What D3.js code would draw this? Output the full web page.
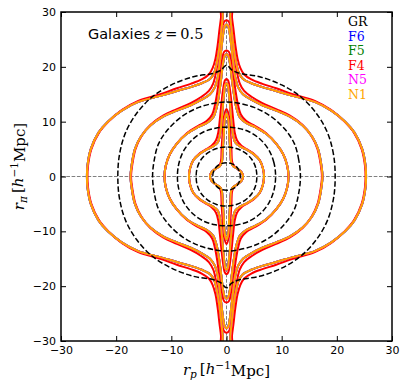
<!DOCTYPE html>
<html>
<head>
<meta charset="utf-8">
<script src="https://cdn.jsdelivr.net/npm/d3@7"></script>
<style>
  body { margin: 0; background: #fff; }
  svg { display: block; }
</style>
</head>
<body>
<svg id="chart" width="407" height="389"></svg>
<script>
// Contours are stored for one quadrant (rp >= 0, rpi >= 0), running from the
// rp axis up to the finger tip; the plot is symmetric, so they are mirrored.
const grContours = [
  [[19.7, 0], [19.4, 4], [18.3, 8], [16.3, 11.5], [13.5, 14.5], [10, 16.7], [6, 18.2], [2.5, 18.8], [1, 19.4], [0, 20.3]],
  [[13.4, 0], [13.1, 3], [12.3, 6], [10.6, 8.6], [8, 11], [5, 12.6], [2, 13.4], [0, 13.6]],
  [[8.9, 0], [8.6, 2.5], [7.7, 4.8], [6.1, 6.8], [4, 8.2], [2, 8.8], [0, 9.0]],
  [[5.5, 0], [5.3, 1.6], [4.6, 3.1], [3.4, 4.3], [1.8, 5.1], [0, 5.4]],
  [[2.5, 0], [2.3, 1], [1.7, 1.9], [0.8, 2.4], [0, 2.5]]
];

const mgContours = [
  [[25.3, 0], [25.2, 2], [24.6, 5], [23.2, 8], [21.5, 10], [19, 12], [16, 13.6], [12, 14.7], [9, 15.6], [6.5, 16.3], [4.5, 17], [3, 17.8], [2.2, 19], [1.7, 21], [1.3, 23.5], [0.95, 26.5], [0.7, 29], [0.55, 31]],
  [[17.4, 0], [17.2, 2], [16.6, 5], [15.5, 7.3], [13.8, 9.3], [11.5, 10.9], [9, 12], [6.5, 13], [4.5, 14], [3, 15], [2.1, 16.3], [1.6, 18], [1.2, 21], [0.85, 24], [0.55, 26.3], [0.3, 27.4], [0, 27.7]],
  [[11.25, 0], [11, 2], [10.3, 4], [9, 6], [7.2, 7.8], [5.2, 9], [3.5, 9.8], [2.4, 10.8], [1.8, 12.5], [1.35, 15], [0.95, 18], [0.65, 20.5], [0.3, 22], [0, 22.3]],
  [[6.8, 0], [6.6, 1.5], [6, 3], [5, 4], [3.8, 4.8], [2.6, 5.4], [1.6, 6.2], [1.2, 7.5], [0.9, 10], [0.65, 13], [0.4, 15.5], [0.2, 16.8], [0, 17]],
  [[3, 0], [2.7, 0.8], [2, 1.4], [1.2, 1.9], [0.85, 2.6], [0.7, 4.5], [0.5, 7.5], [0.3, 10.5], [0, 11.5]]
];

const f4Contours = [
  [[25.2, 0], [25.1, 2], [24.5, 5], [23.1, 8], [21.4, 10], [19, 12.1], [16, 13.8], [12, 15], [9, 16.1], [6.5, 16.9], [4.5, 17.7], [3.2, 18.6], [2.5, 19.8], [2.0, 21.5], [1.6, 24], [1.25, 27], [1.0, 29], [0.9, 31]],
  [[17.3, 0], [17.1, 2], [16.5, 5], [15.4, 7.4], [13.7, 9.5], [11.5, 11.1], [9, 12.3], [6.5, 13.4], [4.6, 14.5], [3.2, 15.6], [2.4, 17], [1.9, 19], [1.5, 21.5], [1.15, 24.5], [0.85, 26.8], [0.45, 28.2], [0, 28.5]],
  [[11.2, 0], [11, 2], [10.3, 4], [9, 6], [7.2, 7.9], [5.2, 9.2], [3.6, 10.1], [2.6, 11.3], [2.1, 13], [1.65, 15.5], [1.25, 18.5], [0.85, 21], [0.45, 22.7], [0, 23]],
  [[6.8, 0], [6.6, 1.5], [6, 3], [5, 4.1], [3.8, 4.9], [2.7, 5.6], [1.9, 6.6], [1.5, 8], [1.2, 10.5], [0.9, 13.5], [0.6, 16], [0.3, 17.5], [0, 17.8]],
  [[3, 0], [2.7, 0.8], [2, 1.4], [1.3, 2], [1.0, 2.8], [0.9, 4.8], [0.7, 8], [0.45, 11], [0, 12.3]]
];

const models = ["F6", "F5", "F4", "N5", "N1"];
const modelColors = ["#0000ff", "#008000", "#ff0000", "#ff00ff", "#ffa500"];
const modelContours = [mgContours, mgContours, f4Contours, mgContours, mgContours];
const legendNames = ["GR"].concat(models);
const legendColors = ["#000000"].concat(modelColors);
const ticks = [-30, -20, -10, 0, 10, 20, 30];

const margin = { left: 61, right: 15, top: 12, bottom: 48 };
const svg = d3.select("#chart");
const W = +svg.attr("width"), H = +svg.attr("height");
const x = d3.scaleLinear().domain([-30, 30]).range([margin.left, W - margin.right]);
const y = d3.scaleLinear().domain([-30, 30]).range([H - margin.bottom, margin.top]);

svg.append("clipPath").attr("id", "plot-clip")
  .append("rect")
  .attr("x", x(-30)).attr("y", y(30))
  .attr("width", x(30) - x(-30)).attr("height", y(-30) - y(30));

// mirror a quadrant polyline into a full closed loop
function fullLoop(q) {
  const onAxis = q[q.length - 1][0] === 0 ? 1 : 0;
  const q2 = q.slice().reverse().map(([a, b]) => [-a, b]);
  const q3 = q.map(([a, b]) => [-a, -b]);
  const q4 = q.slice().reverse().map(([a, b]) => [a, -b]);
  const pts = q.concat(q2.slice(onAxis), q3.slice(1), q4.slice(onAxis));
  return pts.slice(0, -1);
}

const line = d3.line()
  .x(d => x(d[0]))
  .y(d => y(d[1]))
  .curve(d3.curveCatmullRomClosed.alpha(0.5));

const plot = svg.append("g").attr("clip-path", "url(#plot-clip)");

// zero reference lines
plot.append("line")
  .attr("x1", x(-30)).attr("x2", x(30)).attr("y1", y(0)).attr("y2", y(0))
  .attr("stroke", "#808080").attr("stroke-width", 1).attr("stroke-dasharray", "3.7,1.6");
plot.append("line")
  .attr("x1", x(0)).attr("x2", x(0)).attr("y1", y(-30)).attr("y2", y(30))
  .attr("stroke", "#808080").attr("stroke-width", 1).attr("stroke-dasharray", "3.7,1.6");

models.forEach((m, i) => {
  plot.append("g")
    .selectAll("path")
    .data(modelContours[i])
    .join("path")
    .attr("d", q => line(fullLoop(q)))
    .attr("fill", "none")
    .attr("stroke", modelColors[i])
    .attr("stroke-width", 2)
    .attr("stroke-linejoin", "round");
});

plot.append("g")
  .selectAll("path")
  .data(grContours)
  .join("path")
  .attr("d", q => line(fullLoop(q)))
  .attr("fill", "none")
  .attr("stroke", "#000")
  .attr("stroke-width", 1.5)
  .attr("stroke-dasharray", "5.5,2.4");

// axes with inward ticks on all sides
const tickFont = "11px 'DejaVu Sans'";
function styleAxis(g) {
  g.select(".domain").remove();
  g.selectAll(".tick line").attr("stroke", "#000").attr("stroke-width", 1);
  g.selectAll(".tick text").style("font", tickFont).attr("fill", "#000");
}
svg.append("g").attr("transform", `translate(0,${y(-30)})`)
  .call(d3.axisBottom(x).tickValues(ticks).tickSize(-5).tickPadding(5)).call(styleAxis);
svg.append("g").attr("transform", `translate(${x(-30)},0)`)
  .call(d3.axisLeft(y).tickValues(ticks).tickSize(-5).tickPadding(5)).call(styleAxis);
svg.append("g").attr("transform", `translate(0,${y(30)})`)
  .call(d3.axisTop(x).tickValues(ticks).tickSize(-5).tickFormat("")).call(styleAxis);
svg.append("g").attr("transform", `translate(${x(30)},0)`)
  .call(d3.axisRight(y).tickValues(ticks).tickSize(-5).tickFormat("")).call(styleAxis);

svg.append("rect")
  .attr("x", x(-30)).attr("y", y(30))
  .attr("width", x(30) - x(-30)).attr("height", y(-30) - y(30))
  .attr("fill", "none").attr("stroke", "#000").attr("stroke-width", 1.5);

// axis labels
function mathLabel(g, sub) {
  g.append("tspan").attr("font-style", "italic").text("r");
  g.append("tspan").attr("font-style", "italic").attr("font-size", "0.7em").attr("dy", "0.25em").text(sub);
  g.append("tspan").attr("dy", "-0.25em").text("\u2009[");
  g.append("tspan").attr("font-style", "italic").text("h");
  g.append("tspan").attr("font-size", "0.7em").attr("dy", "-0.45em").text("\u22121");
  g.append("tspan").attr("dy", "0.45em").text("Mpc]");
}
const xl = svg.append("text")
  .attr("x", (x(-30) + x(30)) / 2).attr("y", 375)
  .attr("text-anchor", "middle")
  .style("font", "15px 'DejaVu Serif'");
mathLabel(xl, "p");
const yl = svg.append("text")
  .attr("transform", `translate(24,${(y(-30) + y(30)) / 2 - 10}) rotate(-90)`)
  .attr("text-anchor", "middle")
  .style("font", "15px 'DejaVu Serif'");
mathLabel(yl, "\u03c0");

// title
const title = svg.append("text").attr("x", 88).attr("y", 39)
  .style("font", "14.5px 'DejaVu Sans'");
title.append("tspan").text("Galaxies ");
title.append("tspan").style("font-family", "'DejaVu Serif'").attr("font-style", "italic").text("z");
title.append("tspan").style("font-family", "'DejaVu Serif'").text("\u2009=\u20090.5");

// legend
svg.append("g")
  .selectAll("text")
  .data(legendNames)
  .join("text")
  .attr("x", 348)
  .attr("y", (d, i) => 26 + i * 14.6)
  .attr("fill", (d, i) => legendColors[i])
  .style("font", "12.5px 'DejaVu Serif'")
  .text(d => d);
</script>
</body>
</html>
